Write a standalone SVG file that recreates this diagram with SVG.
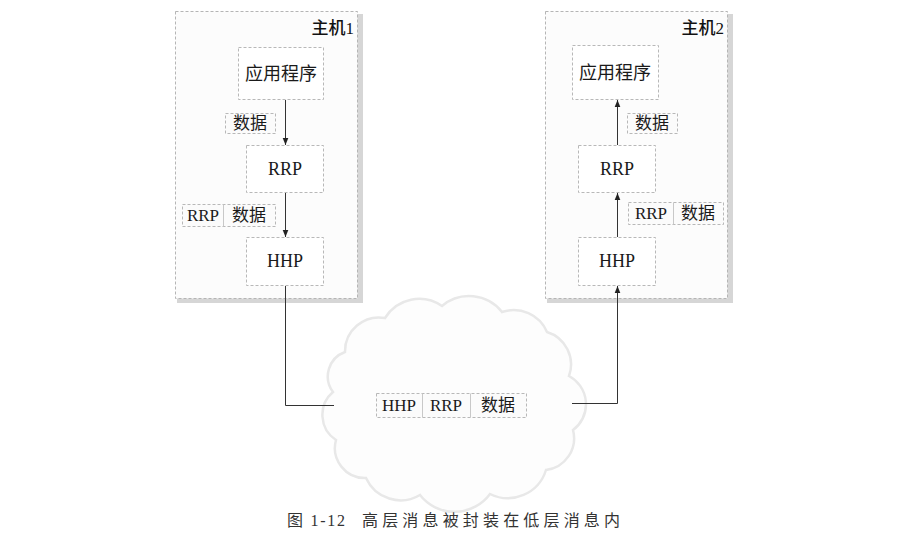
<svg xmlns="http://www.w3.org/2000/svg" width="922" height="535" viewBox="0 0 922 535">
<style>
.host{fill:#fcfcfc;stroke:#b5b5b5;stroke-width:1;stroke-dasharray:3 2}
.shadow{fill:#d6d6d6}
.box{fill:#fff;stroke:#b8b8b8;stroke-width:1;stroke-dasharray:3 2}
.pk{fill:#fbfbfb;stroke:#b8b8b8;stroke-width:1;stroke-dasharray:3 2}
.t{font-family:"Liberation Serif","Noto Sans CJK SC",serif;font-size:18px;fill:#1a1a1a;text-anchor:middle}
.p{font-family:"Liberation Serif","Noto Sans CJK SC",serif;font-size:17px;fill:#1a1a1a;text-anchor:middle}
.h{font-family:"Liberation Serif","Noto Sans CJK SC",serif;font-size:17px;fill:#111;text-anchor:end;font-weight:500}
.c{font-family:"Liberation Serif","Noto Sans CJK SC",serif;font-size:16px;fill:#333}
.ln{fill:none;stroke:#333;stroke-width:1}
</style>
<defs>
<marker id="ah" viewBox="0 0 10 10" refX="10" refY="5" markerWidth="7" markerHeight="8" orient="auto" markerUnits="userSpaceOnUse">
<path d="M0,1 L10,5 L0,9 Z" fill="#222"/>
</marker>
</defs>
<rect width="922" height="535" fill="#fff"/>

<g id="cloud">
<path d="M345,352 A34,34 0 0 1 385,318 A40,40 0 0 1 442,306 A42,42 0 0 1 502,312 A36,36 0 0 1 547,332 A34,34 0 0 1 569,376 A32,32 0 0 1 573,430 A32,32 0 0 1 546,470 A40,40 0 0 1 490,494 A44,44 0 0 1 420,495 A38,38 0 0 1 366,478 A30,30 0 0 1 336,440 A30,30 0 0 1 333,392 A26,26 0 0 1 345,352 Z" fill="#fdfdfd" stroke="#e8e8e8" stroke-width="2.5"/>
</g>

<g id="host1">
<rect class="shadow" x="357" y="14" width="6" height="289"/>
<rect class="shadow" x="177" y="298" width="186" height="5"/>
<rect class="host" x="175.5" y="11.5" width="182" height="287"/>
<text class="h" x="354" y="34">主机1</text>
</g>
<g id="h1-app"><rect class="box" x="238.5" y="47.5" width="85" height="52"/><text class="t" x="281" y="80">应用程序</text></g>
<g id="h1-rrp"><rect class="box" x="246.5" y="145.5" width="77" height="47"/><text class="t" x="285" y="175">RRP</text></g>
<g id="h1-hhp"><rect class="box" x="246.5" y="237.5" width="77" height="48"/><text class="t" x="285" y="267">HHP</text></g>
<g id="h1-data"><rect class="pk" x="225.5" y="113.5" width="50" height="20"/><text class="p" x="250" y="129">数据</text></g>
<g id="h1-rrpdata"><rect class="pk" x="182.5" y="204.5" width="93" height="22"/><line x1="223.5" y1="204.5" x2="223.5" y2="226.5" stroke="#c8c8c8"/><text class="p" x="203" y="221">RRP</text><text class="p" x="249" y="221">数据</text></g>

<g id="host2">
<rect class="shadow" x="727" y="14" width="6" height="289"/>
<rect class="shadow" x="547" y="298" width="186" height="5"/>
<rect class="host" x="545.5" y="11.5" width="182" height="287"/>
<text class="h" x="724" y="34">主机2</text>
</g>
<g id="h2-app"><rect class="box" x="572.5" y="45.5" width="86" height="54"/><text class="t" x="615" y="79">应用程序</text></g>
<g id="h2-rrp"><rect class="box" x="578.5" y="145.5" width="77" height="47"/><text class="t" x="617" y="175">RRP</text></g>
<g id="h2-hhp"><rect class="box" x="578.5" y="237.5" width="77" height="48"/><text class="t" x="617" y="267">HHP</text></g>
<g id="h2-data"><rect class="pk" x="627.5" y="113.5" width="50" height="20"/><text class="p" x="652" y="129">数据</text></g>
<g id="h2-rrpdata"><rect class="pk" x="628.5" y="202.5" width="95" height="22"/><line x1="673.5" y1="202.5" x2="673.5" y2="224.5" stroke="#c8c8c8"/><text class="p" x="651" y="219">RRP</text><text class="p" x="698" y="219">数据</text></g>

<g id="packet">
<rect class="pk" x="376.5" y="393.5" width="150" height="24"/>
<line x1="422.5" y1="393.5" x2="422.5" y2="417.5" stroke="#c8c8c8"/>
<line x1="470.5" y1="393.5" x2="470.5" y2="417.5" stroke="#c8c8c8"/>
<text class="p" x="399" y="411">HHP</text>
<text class="p" x="446" y="411">RRP</text>
<text class="p" x="498" y="411">数据</text>
</g>

<g id="connectors">
<line class="ln" x1="285.5" y1="100" x2="285.5" y2="145" marker-end="url(#ah)"/>
<line class="ln" x1="285.5" y1="193" x2="285.5" y2="237" marker-end="url(#ah)"/>
<polyline class="ln" points="285.5,286 285.5,405.5 334,405.5"/>
<polyline class="ln" points="572,403.5 617.5,403.5 617.5,286" marker-end="url(#ah)"/>
<line class="ln" x1="617.5" y1="237" x2="617.5" y2="193" marker-end="url(#ah)"/>
<line class="ln" x1="617.5" y1="145" x2="617.5" y2="100" marker-end="url(#ah)"/>
</g>

<g id="caption">
<text class="c" x="287" y="526" textLength="58" lengthAdjust="spacing">图 1-12</text>
<text class="c" x="362" y="526" textLength="258" lengthAdjust="spacing">高层消息被封装在低层消息内</text>
</g>
</svg>
